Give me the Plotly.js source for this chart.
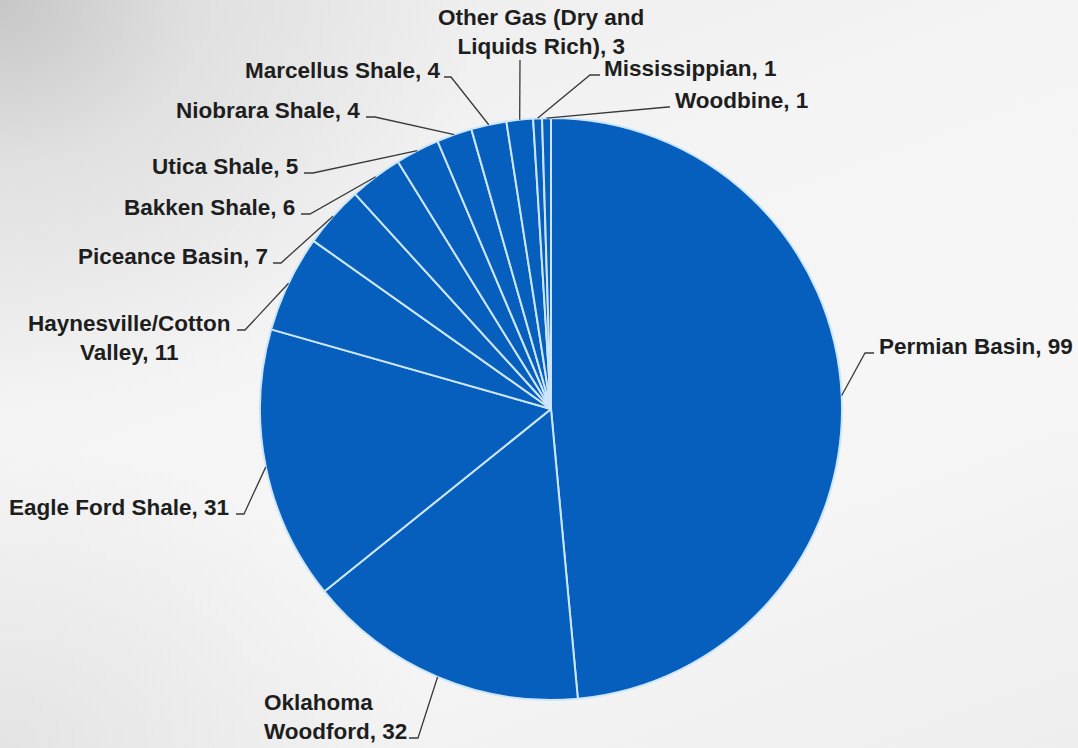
<!DOCTYPE html>
<html>
<head>
<meta charset="utf-8">
<script src="https://cdn.plot.ly/plotly-3.0.1.min.js"></script>
<style>
  html, body { margin: 0; padding: 0; }
  #chart {
    width: 1078px; height: 748px;
    background:
      radial-gradient(ellipse 45% 55% at 0% 0%, rgba(195,195,195,0.9) 0%, rgba(215,215,215,0.6) 40%, rgba(235,235,235,0) 100%),
      radial-gradient(ellipse 40% 40% at 0% 100%, rgba(220,220,220,0.7) 0%, rgba(235,235,235,0) 100%),
      linear-gradient(160deg, #ebebeb 0%, #f4f4f4 35%, #f6f6f6 65%, #eeeeee 100%);
  }
</style>
</head>
<body>
<div id="chart"></div>
<script>
// ---- data ----
const regions = ['Permian Basin', 'Oklahoma Woodford', 'Eagle Ford Shale', 'Haynesville/Cotton Valley',
  'Piceance Basin', 'Bakken Shale', 'Utica Shale', 'Niobrara Shale', 'Marcellus Shale',
  'Other Gas (Dry and Liquids Rich)', 'Mississippian', 'Woodbine'];
const rigCounts = [99, 32, 31, 11, 7, 6, 5, 4, 4, 3, 1, 1];
// display names with line breaks
const displayNames = ['Permian Basin', 'Oklahoma<br>Woodford', 'Eagle Ford Shale', 'Haynesville/Cotton<br>Valley',
  'Piceance Basin', 'Bakken Shale', 'Utica Shale', 'Niobrara Shale', 'Marcellus Shale',
  'Other Gas (Dry and<br>Liquids Rich)', 'Mississippian', 'Woodbine'];

// ---- layout (pixel placement of the label text and leader tail) ----
const W = 1078, H = 748;
const domX = [260 / W, 842 / W];
const domY = [1 - 700 / H, 1 - 118 / H];
// [textX, textY, xanchor, align, tailX, tailY, elbowX]
const labelPlace = [
  [877, 346, 'left', 'left', 874, 353, 865],
  [262, 717, 'left', 'left', 409, 738, 418],
  [231, 507, 'right', 'right', 236, 514, 244],
  [129, 338, 'center', 'center', 237, 330, 245],
  [270, 257, 'right', 'right', 273, 263, 281],
  [297, 207, 'right', 'right', 301, 214, 310],
  [300, 166, 'right', 'right', 304, 173, 313],
  [362, 110, 'right', 'right', 366, 117, 375],
  [443, 70, 'right', 'right', 444, 77, 451],
  [541, 32, 'center', 'center', 520, 60, 520],
  [602, 68, 'left', 'left', 600, 75, 590],
  [673, 101, 'left', 'left', 670, 107, 668]
];

const cx = (domX[0] + domX[1]) / 2 * W;
const cy = (1 - (domY[0] + domY[1]) / 2) * H;
const R = Math.min((domX[1] - domX[0]) * W, (domY[1] - domY[0]) * H) / 2;
const total = rigCounts.reduce((a, b) => a + b, 0);

const px = x => x / W;
const py = y => 1 - y / H;

const annotations = [];
const shapes = [];
let cum = 0;
rigCounts.forEach((v, i) => {
  const mid = (cum + v / 2) / total * 2 * Math.PI;
  cum += v;
  const ex = cx + R * Math.sin(mid);
  const ey = cy - R * Math.cos(mid);
  const p = labelPlace[i];
  annotations.push({
    xref: 'paper', yref: 'paper', x: px(p[0]), y: py(p[1]),
    xanchor: p[2], yanchor: 'middle', align: p[3], showarrow: false,
    text: '<b>' + displayNames[i] + ', ' + v + '</b>',
    font: { family: 'Liberation Sans, Arial, sans-serif', size: 22.5, color: '#1e1e1e' }
  });
  shapes.push({
    type: 'path', xref: 'paper', yref: 'paper',
    path: `M ${px(p[4])} ${py(p[5])} L ${px(p[6])} ${py(p[5])} L ${px(ex)} ${py(ey)}`,
    line: { color: '#3a3a3a', width: 1.3 }
  });
});

const trace = {
  type: 'pie',
  labels: regions,
  values: rigCounts,
  sort: false,
  direction: 'clockwise',
  rotation: 0,
  textinfo: 'none',
  textposition: 'none',
  hoverinfo: 'label+value',
  domain: { x: domX, y: domY },
  marker: { colors: rigCounts.map(() => '#065fbc'), line: { color: '#cde6ff', width: 2 } },
  showlegend: false
};

Plotly.newPlot('chart', [trace], {
  width: W, height: H,
  margin: { l: 0, r: 0, t: 0, b: 0 },
  paper_bgcolor: 'rgba(0,0,0,0)',
  plot_bgcolor: 'rgba(0,0,0,0)',
  showlegend: false,
  annotations: annotations,
  shapes: shapes
}, { displayModeBar: false, staticPlot: true });
</script>
</body>
</html>
